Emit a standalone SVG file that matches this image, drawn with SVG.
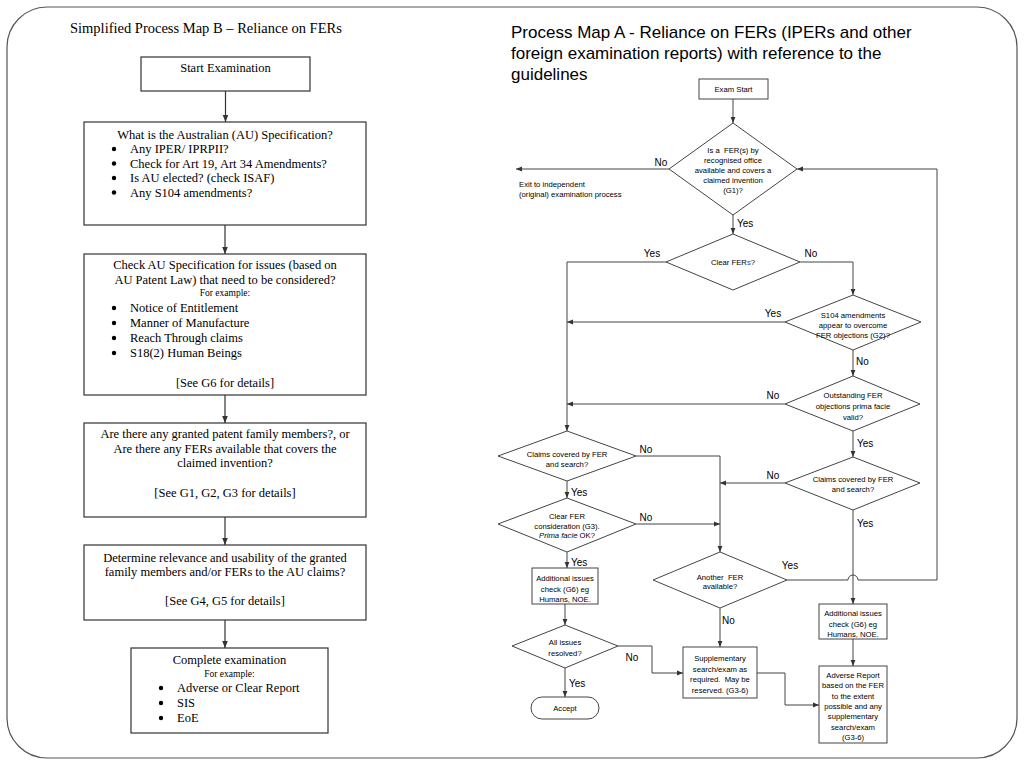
<svg xmlns="http://www.w3.org/2000/svg" width="1024" height="768" viewBox="0 0 1024 768">
<style>
.frame{fill:none;stroke:#555;stroke-width:1.2}
.lbox{fill:#fff;stroke:#333;stroke-width:1.2}
.rbox{fill:#fff;stroke:#444;stroke-width:1}
.lc{fill:none;stroke:#333;stroke-width:1.2}
.rc{fill:none;stroke:#444;stroke-width:1}
.lt{font-family:"Liberation Serif","Times New Roman",serif;font-size:12.5px;fill:#000}
.ls{font-family:"Liberation Serif","Times New Roman",serif;font-size:9.5px;fill:#000}
.ttl{font-family:"Liberation Serif","Times New Roman",serif;font-size:14.5px;fill:#000}
.rtl{font-family:"Liberation Sans",Arial,sans-serif;font-size:17px;fill:#000}
.rt{font-family:"Liberation Sans",Arial,sans-serif;font-size:7.7px;fill:#000;text-anchor:middle}
.lab{font-family:"Liberation Sans",Arial,sans-serif;font-size:10px;fill:#000}
.m{text-anchor:middle}
.bul{fill:#000}
</style>
<defs>
<marker id="al" viewBox="0 0 10 10" refX="10" refY="5" markerWidth="7" markerHeight="7" orient="auto" markerUnits="userSpaceOnUse"><path d="M0,1 L10,5 L0,9 z" fill="#333"/></marker>
<marker id="ar" viewBox="0 0 10 10" refX="10" refY="5" markerWidth="6" markerHeight="6" orient="auto" markerUnits="userSpaceOnUse"><path d="M0,1 L10,5 L0,9 z" fill="#333"/></marker>
</defs>
<rect width="1024" height="768" fill="#fff"/>
<rect class="frame" x="7" y="7" width="1010" height="751" rx="40" ry="40"/>

<!-- LEFT: Process Map B -->
<text class="ttl" x="70" y="33">Simplified Process Map B – Reliance on FERs</text>

<g id="b_start">
<rect class="lbox" x="141" y="57" width="169" height="34"/>
<text class="lt m" x="225.5" y="72">Start Examination</text>
</g>
<g id="b_spec">
<rect class="lbox" x="84" y="122" width="282" height="103"/>
<text class="lt m" x="225" y="139">What is the Australian (AU) Specification?</text>
<circle class="bul" cx="114" cy="149" r="2.2"/><text class="lt" x="130" y="153">Any IPER/ IPRPII?</text>
<circle class="bul" cx="114" cy="163.5" r="2.2"/><text class="lt" x="130" y="167.5">Check for Art 19, Art 34 Amendments?</text>
<circle class="bul" cx="114" cy="178" r="2.2"/><text class="lt" x="130" y="182">Is AU elected? (check ISAF)</text>
<circle class="bul" cx="114" cy="192.5" r="2.2"/><text class="lt" x="130" y="196.5">Any S104 amendments?</text>
</g>
<g id="b_issues">
<rect class="lbox" x="84" y="254" width="282" height="141"/>
<text class="lt m" x="225" y="269">Check AU Specification for issues (based on</text>
<text class="lt m" x="225" y="283.5">AU Patent Law) that need to be considered?</text>
<text class="ls m" x="225" y="296">For example:</text>
<circle class="bul" cx="114" cy="308" r="2.2"/><text class="lt" x="130" y="312">Notice of Entitlement</text>
<circle class="bul" cx="114" cy="323" r="2.2"/><text class="lt" x="130" y="327">Manner of Manufacture</text>
<circle class="bul" cx="114" cy="338" r="2.2"/><text class="lt" x="130" y="342">Reach Through claims</text>
<circle class="bul" cx="114" cy="353" r="2.2"/><text class="lt" x="130" y="357">S18(2) Human Beings</text>
<text class="lt m" x="225" y="387">[See G6 for details]</text>
</g>
<g id="b_family">
<rect class="lbox" x="84" y="423" width="282" height="94"/>
<text class="lt m" x="225" y="438">Are there any granted patent family members?, or</text>
<text class="lt m" x="225" y="453">Are there any FERs available that covers the</text>
<text class="lt m" x="225" y="467">claimed invention?</text>
<text class="lt m" x="225" y="497">[See G1, G2, G3 for details]</text>
</g>
<g id="b_relevance">
<rect class="lbox" x="84" y="545" width="282" height="75"/>
<text class="lt m" x="225" y="562">Determine relevance and usability of the granted</text>
<text class="lt m" x="225" y="576">family members and/or FERs to the AU claims?</text>
<text class="lt m" x="225" y="605">[See G4, G5 for details]</text>
</g>
<g id="b_complete">
<rect class="lbox" x="131" y="648" width="197" height="85"/>
<text class="lt m" x="229.5" y="664">Complete examination</text>
<text class="ls m" x="229.5" y="677">For example:</text>
<circle class="bul" cx="161" cy="688" r="2.2"/><text class="lt" x="177" y="692">Adverse or Clear Report</text>
<circle class="bul" cx="161" cy="703" r="2.2"/><text class="lt" x="177" y="707">SIS</text>
<circle class="bul" cx="161" cy="718" r="2.2"/><text class="lt" x="177" y="722">EoE</text>
</g>
<g id="left_connectors">
<path class="lc" d="M225.5,91 V122" marker-end="url(#al)"/>
<path class="lc" d="M225,225 V254" marker-end="url(#al)"/>
<path class="lc" d="M225,395 V423" marker-end="url(#al)"/>
<path class="lc" d="M225,517 V545" marker-end="url(#al)"/>
<path class="lc" d="M225,620 V648" marker-end="url(#al)"/>
</g>

<!-- RIGHT: Process Map A -->
<text class="rtl" x="511" y="38">Process Map A - Reliance on FERs (IPERs and other</text>
<text class="rtl" x="511" y="59">foreign examination reports) with reference to the</text>
<text class="rtl" x="511" y="80">guidelines</text>

<g id="a_start">
<rect class="rbox" x="699" y="79" width="69" height="20"/>
<text class="rt" x="733.5" y="92">Exam Start</text>
</g>
<g id="a_g1">
<polygon class="rbox" points="733,123 797,169 733,215 669,169"/>
<text class="rt" x="733" y="153" xml:space="preserve">Is a  FER(s) by</text>
<text class="rt" x="733" y="163">recognised office</text>
<text class="rt" x="733" y="173">available and covers a</text>
<text class="rt" x="733" y="183">claimed invention</text>
<text class="rt" x="733" y="193">(G1)?</text>
</g>
<g id="a_exit">
<text class="rt" x="519" y="187" style="text-anchor:start">Exit to independent</text>
<text class="rt" x="519" y="197" style="text-anchor:start">(original) examination process</text>
</g>
<g id="a_clear">
<polygon class="rbox" points="733,234 800,262 733,290 666,262"/>
<text class="rt" x="733" y="265">Clear FER<tspan fill="#33c">s</tspan>?</text>
</g>
<g id="a_s104">
<polygon class="rbox" points="853,295 921,322 853,350 785,322"/>
<text class="rt" x="853" y="318">S104 amendments</text>
<text class="rt" x="853" y="328">appear to overcome</text>
<text class="rt" x="853" y="338">FER objections (G2)?</text>
</g>
<g id="a_outstanding">
<polygon class="rbox" points="853,376 920,404 853,431 785,404"/>
<text class="rt" x="853" y="398">Outstanding FER</text>
<text class="rt" x="853" y="409">objections prima facie</text>
<text class="rt" x="853" y="420">valid?</text>
</g>
<g id="a_claims_r">
<polygon class="rbox" points="853,457 920,483 853,510 785,483"/>
<text class="rt" x="853" y="482">Claims covered by FER</text>
<text class="rt" x="853" y="492">and search?</text>
</g>
<g id="a_claims_l">
<polygon class="rbox" points="567,431 636,456 567,481 498,456"/>
<text class="rt" x="567" y="457">Claims covered by FER</text>
<text class="rt" x="567" y="467">and search?</text>
</g>
<g id="a_clearfer">
<polygon class="rbox" points="567,498 636,524 567,552 498,524"/>
<text class="rt" x="567" y="519">Clear FER</text>
<text class="rt" x="567" y="528.5">consideration (G3).</text>
<text class="rt" x="567" y="538"><tspan font-style="italic">Prima facie</tspan> OK?</text>
</g>
<g id="a_add_l">
<rect class="rbox" x="532" y="568" width="66" height="36"/>
<text class="rt" x="565" y="581">Additional issues</text>
<text class="rt" x="565" y="591.5">check (G6) eg</text>
<text class="rt" x="565" y="602">Humans, NOE.</text>
</g>
<g id="a_allissues">
<polygon class="rbox" points="565,625 618,646 565,668 512,646"/>
<text class="rt" x="565" y="645">All issues</text>
<text class="rt" x="565" y="656">resolved?</text>
</g>
<g id="a_accept">
<rect class="rbox" x="531" y="697" width="68" height="22" rx="11" ry="11"/>
<text class="rt" x="565" y="711">Accept</text>
</g>
<g id="a_another">
<polygon class="rbox" points="720,552 787,580 720,608 653,580"/>
<text class="rt" x="720" y="579.5" xml:space="preserve">Another  FER</text>
<text class="rt" x="720" y="588.5">available?</text>
</g>
<g id="a_supp">
<rect class="rbox" x="683" y="647" width="74" height="51"/>
<text class="rt" x="720" y="661">Supplementary</text>
<text class="rt" x="720" y="671.5">search/exam as</text>
<text class="rt" x="720" y="682" xml:space="preserve">required.  May be</text>
<text class="rt" x="720" y="692.5">reserved. (G3-6)</text>
</g>
<g id="a_add_r">
<rect class="rbox" x="819" y="604" width="68" height="35"/>
<text class="rt" x="853" y="616">Additional issues</text>
<text class="rt" x="853" y="626.5">check (G6) eg</text>
<text class="rt" x="853" y="637">Humans, NOE.</text>
</g>
<g id="a_adverse">
<rect class="rbox" x="819" y="666" width="68" height="77"/>
<text class="rt" x="853" y="678">Adverse Report</text>
<text class="rt" x="853" y="688.3">based on the FER</text>
<text class="rt" x="853" y="698.6">to the extent</text>
<text class="rt" x="853" y="709">possible and any</text>
<text class="rt" x="853" y="719.3">supplementary</text>
<text class="rt" x="853" y="729.6">search/exam</text>
<text class="rt" x="853" y="740">(G3-6)</text>
</g>

<g id="right_connectors">
<path class="rc" d="M733,99 V123" marker-end="url(#ar)"/>
<path class="rc" d="M669,169 H516" marker-end="url(#ar)"/>
<path class="rc" d="M733,215 V234" marker-end="url(#ar)"/>
<path class="rc" d="M666,262 H567 V431" marker-end="url(#ar)"/>
<path class="rc" d="M800,262 H853 V295" marker-end="url(#ar)"/>
<path class="rc" d="M785,322 H567" marker-end="url(#ar)"/>
<path class="rc" d="M853,350 V376" marker-end="url(#ar)"/>
<path class="rc" d="M785,404 H567" marker-end="url(#ar)"/>
<path class="rc" d="M853,431 V457" marker-end="url(#ar)"/>
<path class="rc" d="M785,483 H720" marker-end="url(#ar)"/>
<path class="rc" d="M853,510 V604" marker-end="url(#ar)"/>
<path class="rc" d="M636,456 H720 V552" marker-end="url(#ar)"/>
<path class="rc" d="M567,481 V498" marker-end="url(#ar)"/>
<path class="rc" d="M636,524 H720" marker-end="url(#ar)"/>
<path class="rc" d="M567,552 V568" marker-end="url(#ar)"/>
<path class="rc" d="M565,604 V625" marker-end="url(#ar)"/>
<path class="rc" d="M618,646 H652 V673 H683" marker-end="url(#ar)"/>
<path class="rc" d="M565,668 V697" marker-end="url(#ar)"/>
<path class="rc" d="M787,580 H848 A5,5 0 0 1 858,580 H937 V169 H797" marker-end="url(#ar)"/>
<path class="rc" d="M720,608 V647" marker-end="url(#ar)"/>
<path class="rc" d="M853,639 V666" marker-end="url(#ar)"/>
<path class="rc" d="M757,673 H785 V705 H819" marker-end="url(#ar)"/>
</g>
<g id="labels">
<text class="lab m" x="661" y="165.5">No</text>
<text class="lab" x="737" y="226.5">Yes</text>
<text class="lab m" x="652" y="256.5">Yes</text>
<text class="lab m" x="811" y="256.5">No</text>
<text class="lab m" x="773" y="316.5">Yes</text>
<text class="lab" x="856" y="364.5">No</text>
<text class="lab m" x="773" y="398.5">No</text>
<text class="lab" x="857" y="446.5">Yes</text>
<text class="lab m" x="773" y="478.5">No</text>
<text class="lab" x="857" y="526.5">Yes</text>
<text class="lab m" x="646" y="452.5">No</text>
<text class="lab" x="571" y="495.5">Yes</text>
<text class="lab m" x="646" y="520.5">No</text>
<text class="lab" x="571" y="565.5">Yes</text>
<text class="lab m" x="632" y="660.5">No</text>
<text class="lab" x="569" y="686.5">Yes</text>
<text class="lab m" x="790" y="568.5">Yes</text>
<text class="lab" x="722" y="623.5">No</text>
</g>
</svg>
